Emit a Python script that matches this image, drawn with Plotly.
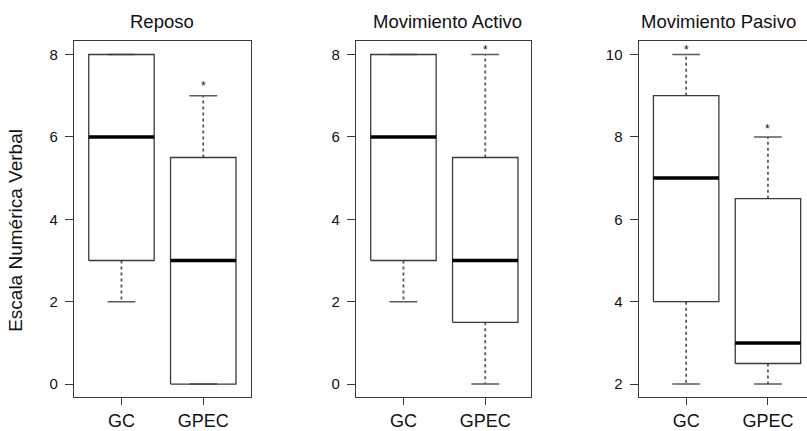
import plotly.graph_objects as go

# ---------------- data ----------------
panel_titles = ["Reposo", "Movimiento Activo", "Movimiento Pasivo"]
categories = ["GC", "GPEC"]
y_title = "Escala Numérica Verbal"

# five-number summaries per panel: [GC, GPEC]
lower_whisker = [[2, 0], [2, 0], [2, 2]]
q1_values = [[3, 0], [3, 1.5], [4, 2.5]]
median_values = [[6, 3], [6, 3], [7, 3]]
q3_values = [[8, 5.5], [8, 5.5], [9, 6.5]]
upper_whisker = [[8, 7], [8, 8], [10, 8]]

# asterisk markers: (panel, group index, y position)
star_panel = [0, 1, 2, 2]
star_group = [1, 1, 0, 1]
star_y = [7.31, 8.17, 10.17, 8.27]

y_tickvals = [[0, 2, 4, 6, 8], [0, 2, 4, 6, 8], [2, 4, 6, 8, 10]]
y_ranges = [[-0.32, 8.32], [-0.32, 8.32], [1.68, 10.32]]

# ---------------- layout geometry ----------------
W, H = 807, 431
panel_px = [(74, 250.7), (356, 531), (638.7, 807)]
full_panel_width = 176.7
x_full_range = (0.42, 2.58)
px_per_unit = full_panel_width / (x_full_range[1] - x_full_range[0])
plot_top_px, plot_bottom_px = 41.7, 401

frame_col = "#3a3a3a"
whisk_col = "#5a5a5a"
box_half = 0.4
cap_half = 0.17

fig = go.Figure()

for p in range(3):
    xa = "x" if p == 0 else f"x{p+1}"
    ya = "y" if p == 0 else f"y{p+1}"
    for g in range(2):
        xc = g + 1
        lo, a, m, b, hi = (lower_whisker[p][g], q1_values[p][g], median_values[p][g],
                           q3_values[p][g], upper_whisker[p][g])
        fig.add_trace(go.Scatter(
            x=[xc, xc, None, xc, xc], y=[b, hi, None, a, lo], mode="lines",
            line=dict(color=whisk_col, width=1.8, dash="3px,3px"),
            xaxis=xa, yaxis=ya, showlegend=False, hoverinfo="skip"))
        fig.add_trace(go.Scatter(
            x=[xc - cap_half, xc + cap_half, None, xc - cap_half, xc + cap_half],
            y=[hi, hi, None, lo, lo], mode="lines",
            line=dict(color=whisk_col, width=1.5),
            xaxis=xa, yaxis=ya, showlegend=False, hoverinfo="skip"))
        fig.add_trace(go.Scatter(
            x=[xc - box_half, xc + box_half, xc + box_half, xc - box_half, xc - box_half],
            y=[a, a, b, b, a], mode="lines",
            line=dict(color=frame_col, width=1.3),
            xaxis=xa, yaxis=ya, showlegend=False, hoverinfo="skip"))
        fig.add_trace(go.Scatter(
            x=[xc - box_half, xc + box_half], y=[m, m], mode="lines",
            line=dict(color="#000000", width=3.5),
            xaxis=xa, yaxis=ya, showlegend=False, hoverinfo="skip"))

font_family = "Liberation Sans, Arial, Helvetica, sans-serif"
layout = dict(
    width=W, height=H, margin=dict(l=0, r=0, t=0, b=0),
    paper_bgcolor="white", plot_bgcolor="white",
    font=dict(family=font_family, color="#111"),
)

ydom = [(H - plot_bottom_px) / H, (H - plot_top_px) / H]
for p in range(3):
    x0, x1 = panel_px[p]
    width_px = x1 - x0
    xr = [x_full_range[0], x_full_range[0] + width_px / px_per_unit]
    last = p == 2
    xkey = "xaxis" if p == 0 else f"xaxis{p+1}"
    ykey = "yaxis" if p == 0 else f"yaxis{p+1}"
    layout[xkey] = dict(
        domain=[x0 / W, x1 / W], range=xr, anchor="y" if p == 0 else f"y{p+1}",
        tickvals=[1, 2], ticktext=categories, ticks="outside", ticklen=7,
        tickcolor=frame_col, tickwidth=1.2, showgrid=False, zeroline=False,
        showline=True, mirror=True, linecolor=frame_col, linewidth=1.3,
        tickfont=dict(size=18, color="#111"), fixedrange=True,
    )
    layout[ykey] = dict(
        domain=ydom, range=y_ranges[p], anchor="x" if p == 0 else f"x{p+1}",
        tickvals=y_tickvals[p], ticks="outside", ticklen=8,
        tickcolor=frame_col, tickwidth=1.2, showgrid=False, zeroline=False,
        showline=True, mirror=not last, linecolor=frame_col, linewidth=1.3,
        tickfont=dict(size=15, color="#111"), ticklabelstandoff=4, fixedrange=True,
    )

fig.update_layout(**layout)

title_x_px = [162.3, 447.7, 718]
for p in range(3):
    fig.add_annotation(text=panel_titles[p], x=title_x_px[p] / W, y=(H - 22) / H,
                       xref="paper", yref="paper", showarrow=False,
                       font=dict(size=18.5, color="#111"), xanchor="center", yanchor="middle")

fig.add_annotation(text=y_title, x=16 / W, y=(H - 233) / H, xref="paper", yref="paper",
                   textangle=-90, showarrow=False, font=dict(size=19, color="#111"),
                   xanchor="center", yanchor="middle")

for pp, gg, yy in zip(star_panel, star_group, star_y):
    xa = "x" if pp == 0 else f"x{pp+1}"
    ya = "y" if pp == 0 else f"y{pp+1}"
    fig.add_annotation(text="*", x=gg + 1, y=yy, xref=xa, yref=ya, showarrow=False,
                       font=dict(size=12, color="#111"), xanchor="center", yanchor="middle",
                       yshift=-3)

fig.write_html(
    "out.html",
    config={"displayModeBar": False},
    post_script="document.body.style.margin='0';document.body.style.overflow='hidden';",
)
